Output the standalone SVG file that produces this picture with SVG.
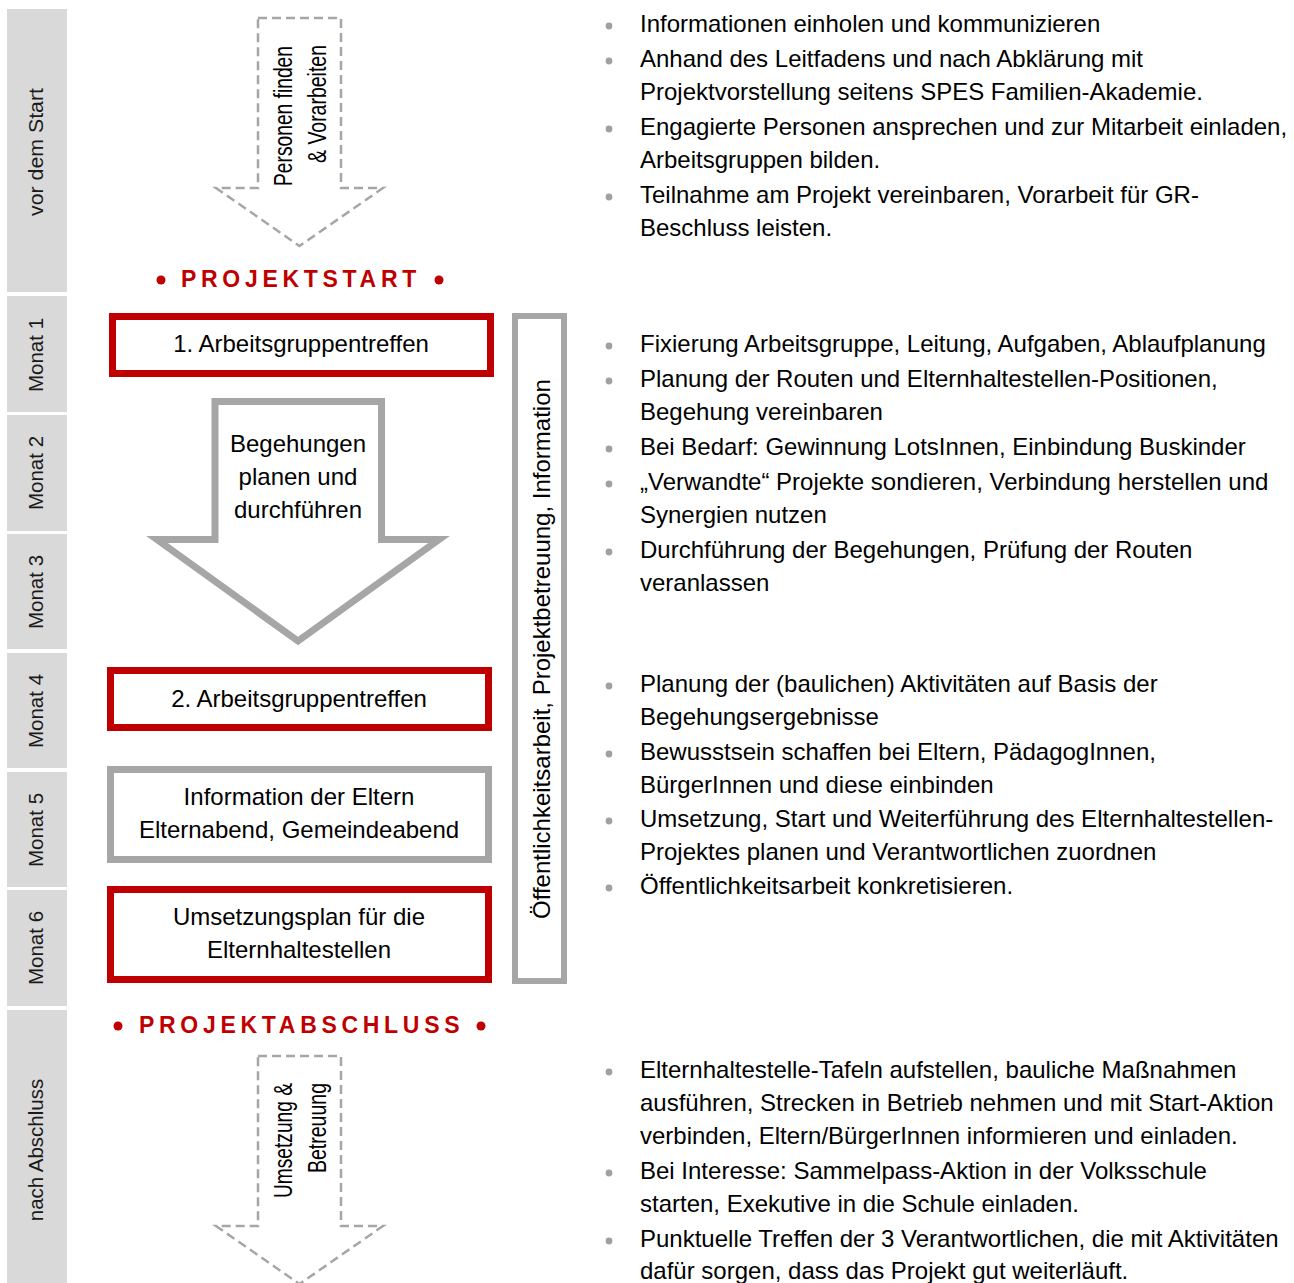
<svg xmlns="http://www.w3.org/2000/svg" width="1294" height="1283" viewBox="0 0 1294 1283">
<defs>
<style>
.side{fill:#d9d9d9}
.sidet{font-family:"Liberation Sans",Arial,sans-serif;font-size:20.5px;fill:#1a1a1a;text-anchor:middle}
.red{fill:#fff;stroke:#c00000;stroke-width:7}
.gray{fill:#fff;stroke:#a6a6a6;stroke-width:7}
.dash{fill:none;stroke:#a6a6a6;stroke-width:2.5;stroke-dasharray:9 5}
.t{font-family:"Liberation Sans",Arial,sans-serif;font-size:24px;fill:#000}
.c{text-anchor:middle}
.vt{font-family:"Liberation Sans",Arial,sans-serif;font-size:25px;fill:#000;text-anchor:end}
.ms{font-family:"Liberation Sans",Arial,sans-serif;font-size:23px;font-weight:bold;fill:#c00000;letter-spacing:4.7px}
.md{fill:#c00000}
.b{fill:#a0a0a0}
</style>
</defs>
<rect width="1294" height="1283" fill="#fff"/>
<g id="sidebar">
<rect class="side" x="7" y="9" width="60" height="283"/>
<rect class="side" x="7" y="296" width="60" height="116"/>
<rect class="side" x="7" y="415" width="60" height="116"/>
<rect class="side" x="7" y="534" width="60" height="115"/>
<rect class="side" x="7" y="653" width="60" height="115"/>
<rect class="side" x="7" y="772" width="60" height="115"/>
<rect class="side" x="7" y="890" width="60" height="116"/>
<rect class="side" x="7" y="1010" width="60" height="273"/>
<text class="sidet" transform="translate(43,152) rotate(-90)" textLength="128" lengthAdjust="spacingAndGlyphs">vor dem Start</text>
<text class="sidet" transform="translate(43,355) rotate(-90)">Monat 1</text>
<text class="sidet" transform="translate(43,473) rotate(-90)">Monat 2</text>
<text class="sidet" transform="translate(43,592) rotate(-90)">Monat 3</text>
<text class="sidet" transform="translate(43,711) rotate(-90)">Monat 4</text>
<text class="sidet" transform="translate(43,830) rotate(-90)">Monat 5</text>
<text class="sidet" transform="translate(43,948) rotate(-90)">Monat 6</text>
<text class="sidet" transform="translate(43,1150) rotate(-90)">nach Abschluss</text>
</g>
<g id="connectors">
<path class="dash" d="M258,18 H341 V188 H383 L299.5,246 L216,188 H258 Z"/>
<path class="dash" d="M258,1056 H341 V1226 H383 L299.5,1284 L216,1226 H258 Z"/>
</g>
<g id="arrow-vor">
<text class="vt" transform="translate(292,46) rotate(-90)" textLength="140" lengthAdjust="spacingAndGlyphs">Personen finden</text>
<text class="vt" transform="translate(326,45) rotate(-90)" textLength="118" lengthAdjust="spacingAndGlyphs">&amp; Vorarbeiten</text>
</g>
<g id="projektstart">
<circle class="md" cx="161" cy="280" r="4.5"/>
<text class="ms" x="181" y="287">PROJEKTSTART</text>
<circle class="md" cx="439" cy="280" r="4.5"/>
</g>
<g id="ag1">
<rect class="red" x="112.5" y="316.5" width="378" height="57"/>
<text class="t c" x="301" y="352">1. Arbeitsgruppentreffen</text>
</g>
<g id="begehungen">
<path d="M215,401.5 H381.5 V539.5 H439 L298,641 L157,539.5 H215 Z" fill="#fff" stroke="#a6a6a6" stroke-width="7"/>
<text class="t c" x="298" y="452">Begehungen</text>
<text class="t c" x="298" y="485">planen und</text>
<text class="t c" x="298" y="518">durchführen</text>
</g>
<g id="ag2">
<rect class="red" x="110.5" y="670.5" width="378" height="57"/>
<text class="t c" x="299" y="707">2. Arbeitsgruppentreffen</text>
</g>
<g id="info">
<rect class="gray" x="110.5" y="769.5" width="378" height="90"/>
<text class="t c" x="299" y="805">Information der Eltern</text>
<text class="t c" x="299" y="838">Elternabend, Gemeindeabend</text>
</g>
<g id="umsetzungsplan">
<rect class="red" x="110.5" y="889.5" width="378" height="90"/>
<text class="t c" x="299" y="925">Umsetzungsplan für die</text>
<text class="t c" x="299" y="958">Elternhaltestellen</text>
</g>
<g id="oeffentlichkeit">
<rect x="515" y="316" width="49" height="665" fill="#fff" stroke="#a6a6a6" stroke-width="6"/>
<text class="t" transform="translate(550,919) rotate(-90)">Öffentlichkeitsarbeit, Projektbetreuung, Information</text>
</g>
<g id="projektabschluss">
<circle class="md" cx="118" cy="1026" r="4.5"/>
<text class="ms" x="139" y="1033">PROJEKTABSCHLUSS</text>
<circle class="md" cx="481" cy="1026" r="4.5"/>
</g>
<g id="arrow-nach">
<text class="vt" transform="translate(292,1083) rotate(-90)" textLength="115" lengthAdjust="spacingAndGlyphs">Umsetzung &amp;</text>
<text class="vt" transform="translate(326,1083) rotate(-90)" textLength="90" lengthAdjust="spacingAndGlyphs">Betreuung</text>
</g>
<g id="bullets-vor">
<circle class="b" cx="609" cy="26" r="3.4"/>
<circle class="b" cx="609" cy="61" r="3.4"/>
<circle class="b" cx="609" cy="129" r="3.4"/>
<circle class="b" cx="609" cy="197" r="3.4"/>
<text class="t" x="640" y="32">Informationen einholen und kommunizieren</text>
<text class="t" x="640" y="67">Anhand des Leitfadens und nach Abklärung mit</text>
<text class="t" x="640" y="100">Projektvorstellung seitens SPES Familien-Akademie.</text>
<text class="t" x="640" y="135">Engagierte Personen ansprechen und zur Mitarbeit einladen,</text>
<text class="t" x="640" y="168">Arbeitsgruppen bilden.</text>
<text class="t" x="640" y="203">Teilnahme am Projekt vereinbaren, Vorarbeit für GR-</text>
<text class="t" x="640" y="236">Beschluss leisten.</text>
</g>
<g id="bullets-m1">
<circle class="b" cx="609" cy="346" r="3.4"/>
<circle class="b" cx="609" cy="381" r="3.4"/>
<circle class="b" cx="609" cy="449" r="3.4"/>
<circle class="b" cx="609" cy="484" r="3.4"/>
<circle class="b" cx="609" cy="552" r="3.4"/>
<text class="t" x="640" y="352">Fixierung Arbeitsgruppe, Leitung, Aufgaben, Ablaufplanung</text>
<text class="t" x="640" y="387">Planung der Routen und Elternhaltestellen-Positionen,</text>
<text class="t" x="640" y="420">Begehung vereinbaren</text>
<text class="t" x="640" y="455">Bei Bedarf: Gewinnung LotsInnen, Einbindung Buskinder</text>
<text class="t" x="640" y="490">„Verwandte“ Projekte sondieren, Verbindung herstellen und</text>
<text class="t" x="640" y="523">Synergien nutzen</text>
<text class="t" x="640" y="558">Durchführung der Begehungen, Prüfung der Routen</text>
<text class="t" x="640" y="591">veranlassen</text>
</g>
<g id="bullets-m4">
<circle class="b" cx="609" cy="686" r="3.4"/>
<circle class="b" cx="609" cy="754" r="3.4"/>
<circle class="b" cx="609" cy="821" r="3.4"/>
<circle class="b" cx="609" cy="888" r="3.4"/>
<text class="t" x="640" y="692">Planung der (baulichen) Aktivitäten auf Basis der</text>
<text class="t" x="640" y="725">Begehungsergebnisse</text>
<text class="t" x="640" y="760">Bewusstsein schaffen bei Eltern, PädagogInnen,</text>
<text class="t" x="640" y="793">BürgerInnen und diese einbinden</text>
<text class="t" x="640" y="827">Umsetzung, Start und Weiterführung des Elternhaltestellen-</text>
<text class="t" x="640" y="860">Projektes planen und Verantwortlichen zuordnen</text>
<text class="t" x="640" y="894">Öffentlichkeitsarbeit konkretisieren.</text>
</g>
<g id="bullets-nach">
<circle class="b" cx="609" cy="1072" r="3.4"/>
<circle class="b" cx="609" cy="1173" r="3.4"/>
<circle class="b" cx="609" cy="1241" r="3.4"/>
<text class="t" x="640" y="1078">Elternhaltestelle-Tafeln aufstellen, bauliche Maßnahmen</text>
<text class="t" x="640" y="1111">ausführen, Strecken in Betrieb nehmen und mit Start-Aktion</text>
<text class="t" x="640" y="1144">verbinden, Eltern/BürgerInnen informieren und einladen.</text>
<text class="t" x="640" y="1179">Bei Interesse: Sammelpass-Aktion in der Volksschule</text>
<text class="t" x="640" y="1212">starten, Exekutive in die Schule einladen.</text>
<text class="t" x="640" y="1247">Punktuelle Treffen der 3 Verantwortlichen, die mit Aktivitäten</text>
<text class="t" x="640" y="1279">dafür sorgen, dass das Projekt gut weiterläuft.</text>
</g>
</svg>
